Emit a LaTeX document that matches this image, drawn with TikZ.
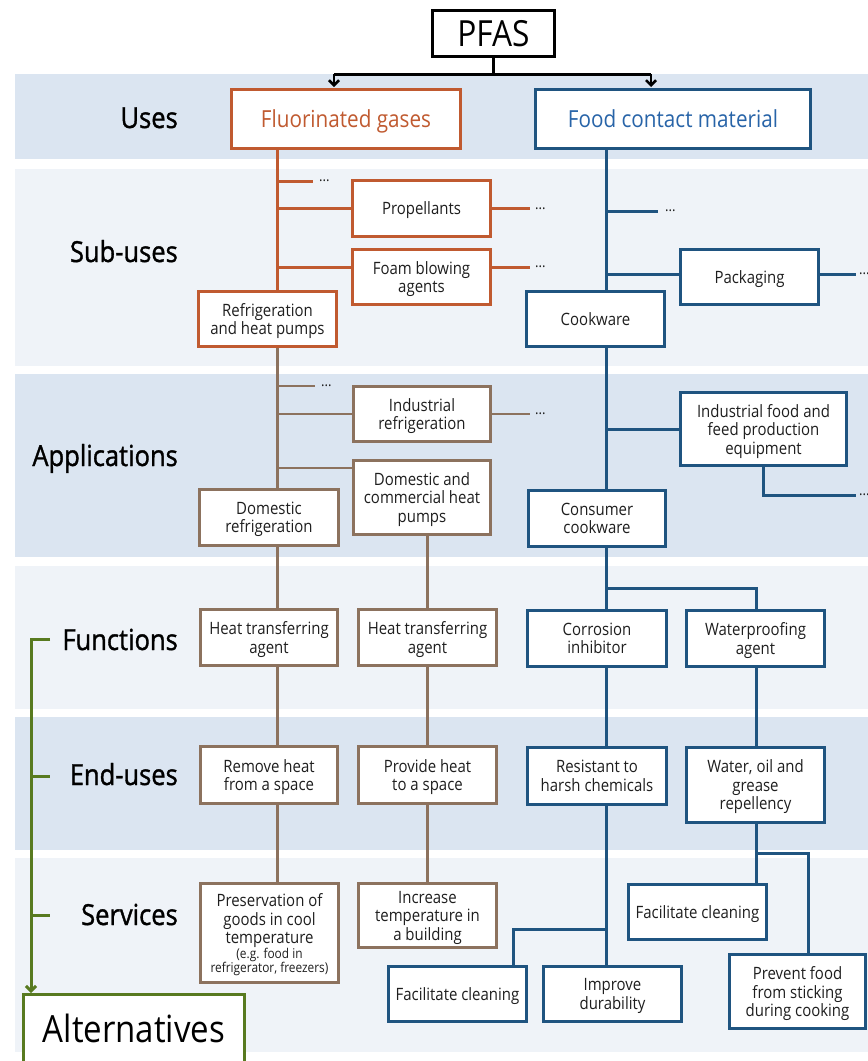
\documentclass[tikz,border=0pt]{standalone}
\usepackage{fontspec}
\setmainfont{Open Sans}[FakeStretch=0.88]
\newfontfamily\labfont{Open Sans}[FakeStretch=0.88, FakeBold=1.2]
\usetikzlibrary{arrows.meta,calc}
\definecolor{orng}{RGB}{192,90,48}
\definecolor{brwn}{RGB}{140,114,94}
\definecolor{blu}{RGB}{31,84,128}
\definecolor{blutxt}{RGB}{40,100,168}
\definecolor{grn}{RGB}{88,122,32}
\definecolor{banddark}{RGB}{219,229,241}
\definecolor{bandlight}{RGB}{239,243,248}
\definecolor{txt}{RGB}{30,30,30}
\newcommand\bxf{\fontsize{17}{18.5}\selectfont}
\newcommand\smf{\fontsize{13.5}{15}\selectfont}
\tikzset{
 box/.style={draw, fill=white, line width=3pt, inner sep=1pt, align=center, font=\bxf, text=txt, text depth=0pt},
 wh/.style 2 args={minimum width=#1pt, minimum height=#2pt},
 ob/.style={box,draw=orng}, bb/.style={box,draw=brwn}, ub/.style={box,draw=blu},
 oline/.style={draw=orng,line width=3pt},
 bline/.style={draw=brwn,line width=2.5pt},
 uline/.style={draw=blu,line width=3pt},
 gline/.style={draw=grn,line width=3pt},
 dotsn/.style={anchor=west, inner sep=0, font=\fontsize{15}{15}\selectfont, text=txt},
 rowlab/.style={anchor=base east, inner sep=0, font=\labfont\fontsize{29}{31}\selectfont, text=black},
 arr/.style={-{Straight Barb[length=5pt,width=10pt]}}
}
\begin{document}
\begin{tikzpicture}[x=1pt,y=-1pt]
\useasboundingbox (0,0) rectangle (868,1061);
\fill[white] (0,0) rectangle (868,1061);
% bands
\fill[banddark]  (15,74)  rectangle (868,159);
\fill[bandlight] (15,169) rectangle (868,366);
\fill[banddark]  (15,374) rectangle (868,557);
\fill[bandlight] (15,566) rectangle (868,709);
\fill[banddark]  (15,717) rectangle (868,850);
\fill[bandlight] (15,858) rectangle (868,1052);

% row labels
\node[rowlab] (lu) at (178,128) {Uses};
\node[rowlab] (ls) at (178,262) {Sub-uses};
\node[rowlab] (la) at (178,466) {Applications};
\node[rowlab] (lf) at (178,650) {Functions};
\node[rowlab] (le) at (178,785) {End-uses};
\node[rowlab] (lsv) at (178,925) {Services};

% stem x positions
\coordinate (oX) at (277.5,0);
\coordinate (bX) at (427.5,0);
\coordinate (uX) at (606,0);
\coordinate (wX) at (756,0);

% nodes
\node[box, draw=black, line width=3.5pt, wh={122}{46}, font=\fontsize{36}{40}\selectfont, text=black] (pfas) at (493.5,33.5) {PFAS};
\node[ob, wh={229}{59}, font=\fontsize{23.5}{26}\selectfont, text=orng] (fg) at (346,119) {Fluorinated gases};
\node[ub, wh={275}{59}, font=\fontsize{23.5}{26}\selectfont, text=blutxt] (fcm) at (673,119) {Food contact material};

\node[ob, wh={138}{56}] (prop) at (421.5,208.5) {Propellants};
\node[ob, wh={138}{55}] (foam) at (421.5,277) {Foam blowing\\agents};
\node[ob, wh={138}{55}] (rhp) at (267.5,319) {Refrigeration\\and heat pumps};
\node[ub, wh={138}{55}] (pack) at (749.5,277) {Packaging};
\node[ub, wh={138}{55}] (cook) at (595.5,319) {Cookware};

\node[bb, wh={137}{55}] (indref) at (422,414) {Industrial\\refrigeration};
\node[bb, wh={137}{74}] (dchp) at (422,497.5) {Domestic and\\commercial heat\\pumps};
\node[bb, wh={139}{56}] (domref) at (269,517.5) {Domestic\\refrigeration};
\node[ub, wh={166}{73}] (indfood) at (763.5,429) {Industrial food and\\feed production\\equipment};
\node[ub, wh={137}{56}] (concook) at (597,518.5) {Consumer\\cookware};

\node[bb, wh={137}{56}] (hta1) at (269,637.5) {Heat transferring\\agent};
\node[bb, wh={138}{56}] (hta2) at (427.5,637.5) {Heat transferring\\agent};
\node[ub, wh={139}{56}] (corr) at (597,638.5) {Corrosion\\inhibitor};
\node[ub, wh={138}{56}] (wp) at (755.5,638.5) {Waterproofing\\agent};

\node[bb, wh={137}{57}] (rem) at (269,775) {Remove heat\\from a space};
\node[bb, wh={138}{57}] (prov) at (427.5,775) {Provide heat\\to a space};
\node[ub, wh={139}{57}] (res) at (597,776) {Resistant to\\harsh chemicals};
\node[ub, wh={138}{75}] (wog) at (755.5,785) {Water, oil and\\grease\\repellency};

\node[bb, wh={138}{99}] (pres) at (269.5,933) {Preservation of\\goods in cool\\temperature\\[-4pt]{\smf (e.g. food in}\\[-4pt]{\smf refrigerator, freezers)}};
\node[bb, wh={138}{64}] (inc) at (427.5,915.5) {Increase\\temperature in\\a building};
\node[ub, wh={138}{55}] (fcl) at (457.5,994) {Facilitate cleaning};
\node[ub, wh={138}{55}] (imp) at (612.5,994) {Improve\\durability};
\node[ub, wh={138}{55}] (fcr) at (697.5,912) {Facilitate cleaning};
\node[ub, wh={136}{74}] (prev) at (797.5,991.5) {Prevent food\\from sticking\\during cooking};

\node[box, draw=grn, wh={221}{68}, font=\fontsize{37.5}{40}\selectfont, text=black] (alt) at (134,1028.5) {Alternatives};

% PFAS connectors
\coordinate (pj) at ($(pfas.south)+(0,16)$);
\coordinate (fgin) at (334,87);
\coordinate (fcmin) at (651,87);
\draw[line width=2.5pt] (pfas.south) -- (pj);
\draw[line width=2.5pt] (fgin |- pj) -- (fcmin |- pj);
\draw[line width=2.5pt, arr] (fgin |- pj) -- (fgin);
\draw[line width=2.5pt, arr] (fcmin |- pj) -- (fcmin);

% orange sub-uses
\coordinate (o1) at (277.5,181);
\coordinate (o1e) at (313,181);
\draw[oline] (fg.south -| oX) -- (rhp.north -| oX);
\draw[oline] (o1) -- (o1e);
\node[dotsn] (d1) at ($(o1e)+(6,0)$) {...};
\draw[oline] (prop.west -| oX) -- (prop.west);
\coordinate (propR) at ($(prop.east)+(38,0)$);
\draw[oline] (prop.east) -- (propR);
\node[dotsn] (d2) at ($(propR)+(5,0)$) {...};
\coordinate (foamL) at ($(foam.west)+(0,-10)$);
\coordinate (foamR) at ($(foam.east)+(0,-10)$);
\coordinate (foamRe) at ($(foamR)+(38,0)$);
\draw[oline] (foamL -| oX) -- (foamL);
\draw[oline] (foamR) -- (foamRe);
\node[dotsn] (d3) at ($(foamRe)+(5,0)$) {...};

% blue sub-uses
\coordinate (u1) at (606,211);
\coordinate (u1e) at (658,211);
\draw[uline] (fcm.south -| uX) -- (cook.north -| uX);
\draw[uline] (u1) -- (u1e);
\node[dotsn] (d4) at ($(u1e)+(7,0)$) {...};
\coordinate (packL) at ($(pack.west)+(0,-3)$);
\coordinate (packR) at ($(pack.east)+(0,-3)$);
\coordinate (packRe) at ($(packR)+(36,0)$);
\draw[uline] (packL -| uX) -- (packL);
\draw[uline] (packR) -- (packRe);
\node[dotsn] (d5) at ($(packRe)+(3,0)$) {...};

% brown applications
\coordinate (b1) at (277.5,386);
\coordinate (b1e) at (315,386);
\draw[bline] (rhp.south -| oX) -- (domref.north -| oX);
\draw[bline] (b1) -- (b1e);
\node[dotsn] (d6) at ($(b1e)+(6,0)$) {...};
\draw[bline] (indref.west -| oX) -- (indref.west);
\coordinate (indrefR) at ($(indref.east)+(38,0)$);
\draw[bline] (indref.east) -- (indrefR);
\node[dotsn] (d7) at ($(indrefR)+(5,0)$) {...};
\coordinate (dchpL) at ($(dchp.west)+(0,-29.5)$);
\draw[bline] (dchpL -| oX) -- (dchpL);

% blue applications
\draw[uline] (cook.south -| uX) -- (concook.north -| uX);
\draw[uline] (indfood.west -| uX) -- (indfood.west);
\coordinate (ifE) at (856,495);
\draw[uline] (indfood.south) |- (ifE);
\node[dotsn] (d8) at ($(ifE)+(3,0)$) {...};

% brown functions / end-uses / services
\draw[bline] (domref.south -| oX) -- (hta1.north -| oX);
\draw[bline] (hta1.south -| oX) -- (rem.north -| oX);
\draw[bline] (rem.south -| oX) -- (pres.north -| oX);
\draw[bline] (dchp.south -| bX) -- (hta2.north -| bX);
\draw[bline] (hta2.south -| bX) -- (prov.north -| bX);
\draw[bline] (prov.south -| bX) -- (inc.north -| bX);

% blue functions / end-uses / services
\coordinate (ub1) at (606,588);
\draw[uline] (concook.south -| uX) -- (corr.north -| uX);
\draw[uline] (ub1) -| (wp.north -| wX);
\draw[uline] (corr.south -| uX) -- (res.north -| uX);
\draw[uline] (wp.south -| wX) -- (wog.north -| wX);
\draw[uline] (res.south -| uX) -- (imp.north -| uX);
\coordinate (ub2) at (606,929);
\coordinate (fclX) at (513,0);
\draw[uline] (ub2) -| (fcl.north -| fclX);
\draw[uline] (wog.south -| wX) -- (fcr.north -| wX);
\coordinate (ub3) at (756,853);
\coordinate (prevX) at (808,0);
\draw[uline] (ub3) -| (prev.north -| prevX);

% green bracket
\coordinate (g0) at (50,639);
\coordinate (g0c) at (31,639);
\coordinate (g1) at (31,776);
\coordinate (g1e) at (50,776);
\coordinate (g2) at (31,915);
\coordinate (g2e) at (50,915);
\draw[gline, arr] (g0) -- (g0c) -- (alt.north -| g0c);
\draw[gline] (g1) -- (g1e);
\draw[gline] (g2) -- (g2e);
\end{tikzpicture}
\end{document}
